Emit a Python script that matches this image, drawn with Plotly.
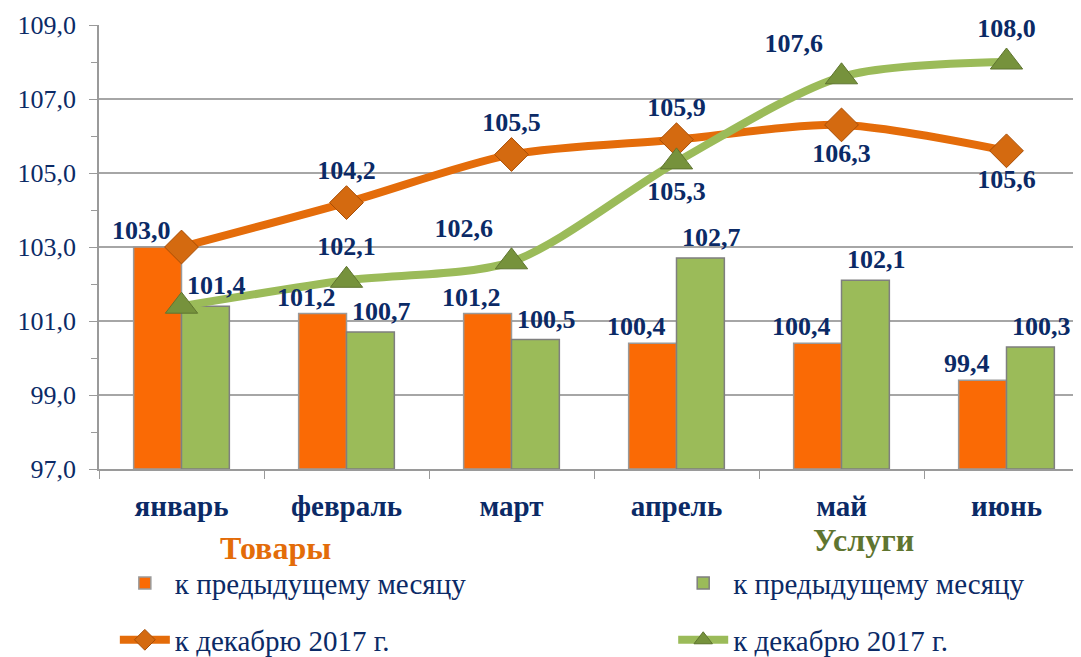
import plotly.graph_objects as go

months = ["январь", "февраль", "март", "апрель", "май", "июнь"]
goods_mom = [103.0, 101.2, 101.2, 100.4, 100.4, 99.4]
serv_mom = [101.4, 100.7, 100.5, 102.7, 102.1, 100.3]
goods_dec = [103.0, 104.2, 105.5, 105.9, 106.3, 105.6]
serv_dec = [101.4, 102.1, 102.6, 105.3, 107.6, 108.0]

NAVY = "#0B2A66"
FONT = "Times New Roman, Liberation Serif, serif"

def fmt(v):
    return f"{v:.1f}".replace(".", ",")

goods_dec_pos = ["top center", "top center", "top center", "top center", "bottom center", "bottom center"]
serv_dec_pos = ["top center", "top center", "top left", "bottom center", "top left", "top center"]
goods_dec_txt = [""] + [fmt(v) for v in goods_dec[1:]]
serv_dec_txt = [""] + [fmt(v) for v in serv_dec[1:]]

LBL = dict(family=FONT, size=26, color=NAVY, weight="bold")

fig = go.Figure()
fig.add_bar(x=months, y=[v - 97 for v in goods_mom], base=97, name="к предыдущему месяцу",
            marker=dict(color="#FA6A05", line=dict(color="#9A9A9A", width=1.5)),
            legend="legend", hoverinfo="skip")
fig.add_bar(x=months, y=[v - 97 for v in serv_mom], base=97, name="к предыдущему месяцу",
            marker=dict(color="#9BBB59", line=dict(color="#7F7F7F", width=1.5)),
            legend="legend2", hoverinfo="skip")
fig.add_scatter(x=months, y=goods_dec, name="к декабрю 2017 г.", mode="lines+markers+text",
                line=dict(color="#E46C0A", width=8, shape="spline", smoothing=0.8),
                marker=dict(symbol="diamond", size=26, color="#D46A10", line=dict(color="#A84E06", width=1)),
                text=goods_dec_txt, textposition=goods_dec_pos, textfont=LBL, cliponaxis=False,
                legend="legend3")
fig.add_scatter(x=months, y=serv_dec, name="к декабрю 2017 г.", mode="lines+markers+text",
                line=dict(color="#9BBB59", width=8, shape="spline", smoothing=0.8),
                marker=dict(symbol="triangle-up", size=28, color="#76923C", line=dict(color="#5F7530", width=1)),
                text=serv_dec_txt, textposition=serv_dec_pos, textfont=LBL, cliponaxis=False,
                legend="legend4")

for m, v in zip(months, goods_mom):
    fig.add_annotation(x=m, y=v, text=fmt(v), showarrow=False, xshift=-40, yanchor="bottom", yshift=0,
                       font=LBL)
for m, v in zip(months, serv_mom):
    fig.add_annotation(x=m, y=v, text=fmt(v), showarrow=False, xshift=35, yanchor="bottom", yshift=4,
                       font=LBL)

fig.add_annotation(x=0.178, y=-0.178, xref="paper", yref="paper", text="<b>Товары</b>", showarrow=False,
                   xanchor="center", yanchor="middle", font=dict(family=FONT, size=32, color="#E36C09"))
fig.add_annotation(x=0.772, y=-0.160, xref="paper", yref="paper", text="<b>Услуги</b>", showarrow=False,
                   xanchor="center", yanchor="middle", font=dict(family=FONT, size=32, color="#5F7530"))

def leg(x, y):
    return dict(orientation="h", x=x, y=y, xanchor="left", yanchor="middle",
                font=dict(family=FONT, size=29, color=NAVY), itemwidth=50,
                bgcolor="rgba(0,0,0,0)")

fig.update_layout(
    width=1081, height=657,
    margin=dict(l=91, r=0, t=17, b=196, autoexpand=False),
    plot_bgcolor="white", paper_bgcolor="white",
    separators=", ",
    barmode="group", bargap=0.42, bargroupgap=0,
    font=dict(family=FONT, color=NAVY),
    legend=leg(0.016, -0.257),
    legend2=leg(0.58, -0.257),
    legend3=leg(0.016, -0.385),
    legend4=leg(0.58, -0.385),
    showlegend=True,
)
fig.update_xaxes(range=[-0.5, 5.5], showline=True, linecolor="#9A9A9A", linewidth=1.5,
                 ticks="outside", tickson="boundaries", ticklen=8, tickcolor="#9A9A9A",
                 tickfont=dict(family=FONT, size=29, color=NAVY, weight="bold"),
                 ticklabelstandoff=10, showgrid=False)
fig.update_yaxes(range=[97, 109], dtick=2, tick0=97, tickformat=".1f",
                 showline=True, linecolor="#9A9A9A", linewidth=1.5,
                 ticks="outside", ticklen=8, tickcolor="#9A9A9A",
                 minor=dict(dtick=1, ticks="outside", ticklen=6, tickcolor="#9A9A9A", showgrid=False),
                 gridcolor="#A6A6A6", gridwidth=1.5,
                 tickfont=dict(family=FONT, size=26, color=NAVY), ticklabelstandoff=8)

fig.write_html("out.html")
